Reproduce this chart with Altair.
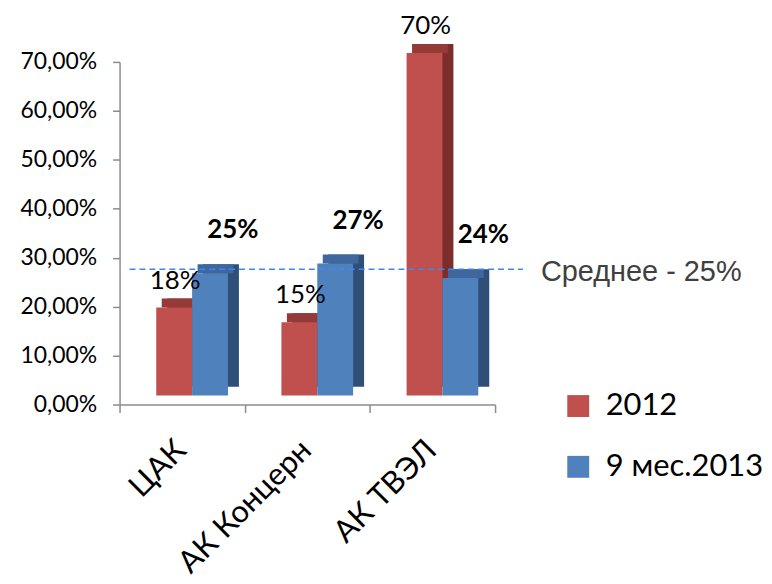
import altair as alt
import pandas as pd

categories = ["ЦАК", "АК Концерн", "АК ТВЭЛ"]
series = ["2012", "9 мес.2013"]
values_2012 = [0.18, 0.15, 0.70]
values_2013 = [0.25, 0.27, 0.24]
labels_2012 = ["18%", "15%", "70%"]
labels_2013 = ["25%", "27%", "24%"]
average_value = [0.25]
average_label = ["Среднее - 25%"]
y_ticks = [0.0, 0.1, 0.2, 0.3, 0.4, 0.5, 0.6, 0.7]

front_colors = ["#C0504D", "#4F81BD"]
side_colors = ["#7B2E2C", "#2F4F78"]
top_colors = ["#943A38", "#3E689D"]

rows = []
for i, c in enumerate(categories):
    rows.append({"cat": c, "series": series[0], "value": values_2012[i], "label": labels_2012[i]})
    rows.append({"cat": c, "series": series[1], "value": values_2013[i], "label": labels_2013[i]})
df = pd.DataFrame(rows)
avg_df = pd.DataFrame({"value": average_value, "label": average_label})

FONT = "Lato"
BAR_W = 36
DX = 11   # 3D depth horizontal
DY = 9    # 3D depth vertical
SHIFT = 10

x_enc = alt.X(
    "cat:N", sort=categories,
    scale=alt.Scale(paddingInner=0, paddingOuter=0),
    axis=alt.Axis(title=None, labelAngle=-45, labelFontSize=31, labelFont=FONT,
                  labelColor="#000000", tickBand="extent", domainColor="#8C8C8C",
                  tickColor="#8C8C8C", tickSize=8, domainWidth=1.5, tickWidth=1.5,
                  labelPadding=33, labelAlign="right", labelBaseline="middle",
                  labelOffset=-1),
)
y_enc = alt.Y(
    "value:Q",
    scale=alt.Scale(domain=[0, 0.7], nice=False, zero=True),
    axis=alt.Axis(title=None, values=y_ticks,
                  labelExpr="replace(format(datum.value, '.2%'), '.', ',')",
                  labelFontSize=23, labelFont=FONT, labelColor="#000000",
                  domainColor="#8C8C8C", tickColor="#8C8C8C", tickSize=7,
                  domainWidth=1.5, tickWidth=1.5, labelPadding=16, grid=False),
)

base = alt.Chart(df).encode(x=x_enc, y=y_enc)

red = base.transform_filter(alt.datum.series == series[0])
blue = base.transform_filter(alt.datum.series == series[1])

red_x = -BAR_W / 2 + SHIFT
blue_x = BAR_W / 2 + SHIFT

red_side = red.mark_bar(width=BAR_W, xOffset=red_x + DX, yOffset=-2 * DY).encode(
    color=alt.value(side_colors[0]))
blue_side = blue.mark_bar(width=BAR_W, xOffset=blue_x + DX, yOffset=-2 * DY).encode(
    color=alt.value(side_colors[1]))

red_top = red.mark_bar(width=BAR_W, xOffset=red_x + DX / 2, yOffset=-2 * DY, y2Offset=-DY).encode(
    y2=alt.Y2("value:Q"), color=alt.value(top_colors[0]))
blue_top = blue.mark_bar(width=BAR_W, xOffset=blue_x + DX / 2, yOffset=-2 * DY, y2Offset=-DY).encode(
    y2=alt.Y2("value:Q"), color=alt.value(top_colors[1]))

color_enc = alt.Color(
    "series:N",
    scale=alt.Scale(domain=series, range=front_colors),
    legend=alt.Legend(title=None, orient="none", legendX=445, legendY=330,
                      symbolType="square", symbolSize=484, symbolStrokeWidth=0,
                      labelFontSize=31, labelFont=FONT, labelColor="#000000",
                      labelOffset=12, rowPadding=29),
)
red_front = red.mark_bar(width=BAR_W, xOffset=red_x, yOffset=-DY).encode(color=color_enc)
blue_front = blue.mark_bar(width=BAR_W, xOffset=blue_x, yOffset=-DY).encode(color=color_enc)

red_text = red.mark_text(font=FONT, fontSize=26, color="#000000", baseline="middle",
                         xOffset=-7, yOffset=-DY, dy=-27).encode(text="label:N")
blue_text = blue.mark_text(font=FONT, fontSize=26, fontWeight="bold", color="#000000",
                           baseline="middle", xOffset=51, yOffset=-DY, dy=-43).encode(text="label:N")

avg_rule = alt.Chart(avg_df).mark_rule(color="#3C87F2", strokeWidth=1.5, strokeDash=[6, 4],
                                       yOffset=-DY - 4).encode(
    y=alt.Y("value:Q"), x=alt.value(10), x2=alt.value(405))
avg_text = alt.Chart(avg_df).mark_text(font="Liberation Sans", fontSize=29, color="#404040",
                                       align="left", baseline="middle", yOffset=-DY - 4, dy=3).encode(
    y=alt.Y("value:Q"), x=alt.value(423), text="label:N")

chart = alt.layer(red_side, blue_side, red_top, blue_top, red_front, blue_front,
                  red_text, blue_text, avg_rule, avg_text).properties(
    width=377, height=344,
    autosize=alt.AutoSizeParams(type="none"),
    padding={"left": 112, "top": 53, "right": 270, "bottom": 176},
).configure_view(stroke=None)

chart.save("out.html", embed_options={"renderer": "svg", "actions": False})
